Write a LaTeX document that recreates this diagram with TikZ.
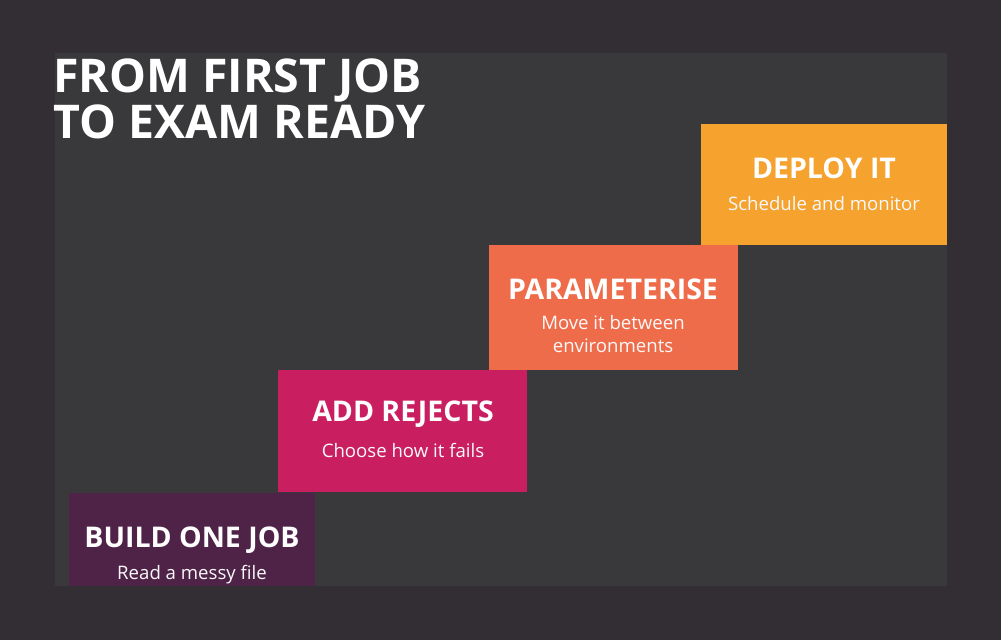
\documentclass[tikz,border=0pt]{standalone}
\usepackage{fontspec}
\setmainfont{Open Sans}
\definecolor{outerbg}{HTML}{322E33}
\definecolor{innerbg}{HTML}{39383B}
\definecolor{cbuild}{HTML}{4F2348}
\definecolor{crej}{HTML}{C91F60}
\definecolor{cparam}{HTML}{EF6C4B}
\definecolor{cdeploy}{HTML}{F5A22F}
\begin{document}
\begin{tikzpicture}[x=1pt,y=-1pt,
  boxtitle/.style={text=white,font=\fontsize{28.5}{31}\selectfont\bfseries,anchor=center,inner sep=0pt},
  boxsub/.style={text=white!95!gray,font=\fontsize{18.6}{23}\selectfont,align=center,anchor=center,inner sep=0pt}]
\fill[outerbg] (0,0) rectangle (1001,640);
\useasboundingbox (0,0) rectangle (1001,640);
\fill[innerbg] (55,53) rectangle (947,586);
% boxes
\fill[cbuild] (69,493) rectangle (315,586);
\fill[crej] (278,370) rectangle (527,492);
\fill[cparam] (489,245) rectangle (738,370);
\fill[cdeploy] (701,124) rectangle (947,245);
% title
\node[anchor=north west,text=white,font=\fontsize{46.5}{46}\selectfont\bfseries,align=left,inner sep=0pt] (title) at (53,59) {FROM FIRST JOB\\TO EXAM READY};
% labels
\node[boxtitle] (t1) at (192,540) {BUILD ONE JOB};
\node[boxsub] (s1) at (192,575) {Read a messy file};
\node[boxtitle] (t2) at (403,414) {ADD REJECTS};
\node[boxsub] (s2) at (403,450) {Choose how it fails};
\node[boxtitle] (t3) at (613,289) {PARAMETERISE};
\node[boxsub] (s3) at (613,334) {Move it between\\environments};
\node[boxtitle] (t4) at (824,168) {DEPLOY IT};
\node[boxsub] (s4) at (824,204) {Schedule and monitor};
\end{tikzpicture}
\end{document}
